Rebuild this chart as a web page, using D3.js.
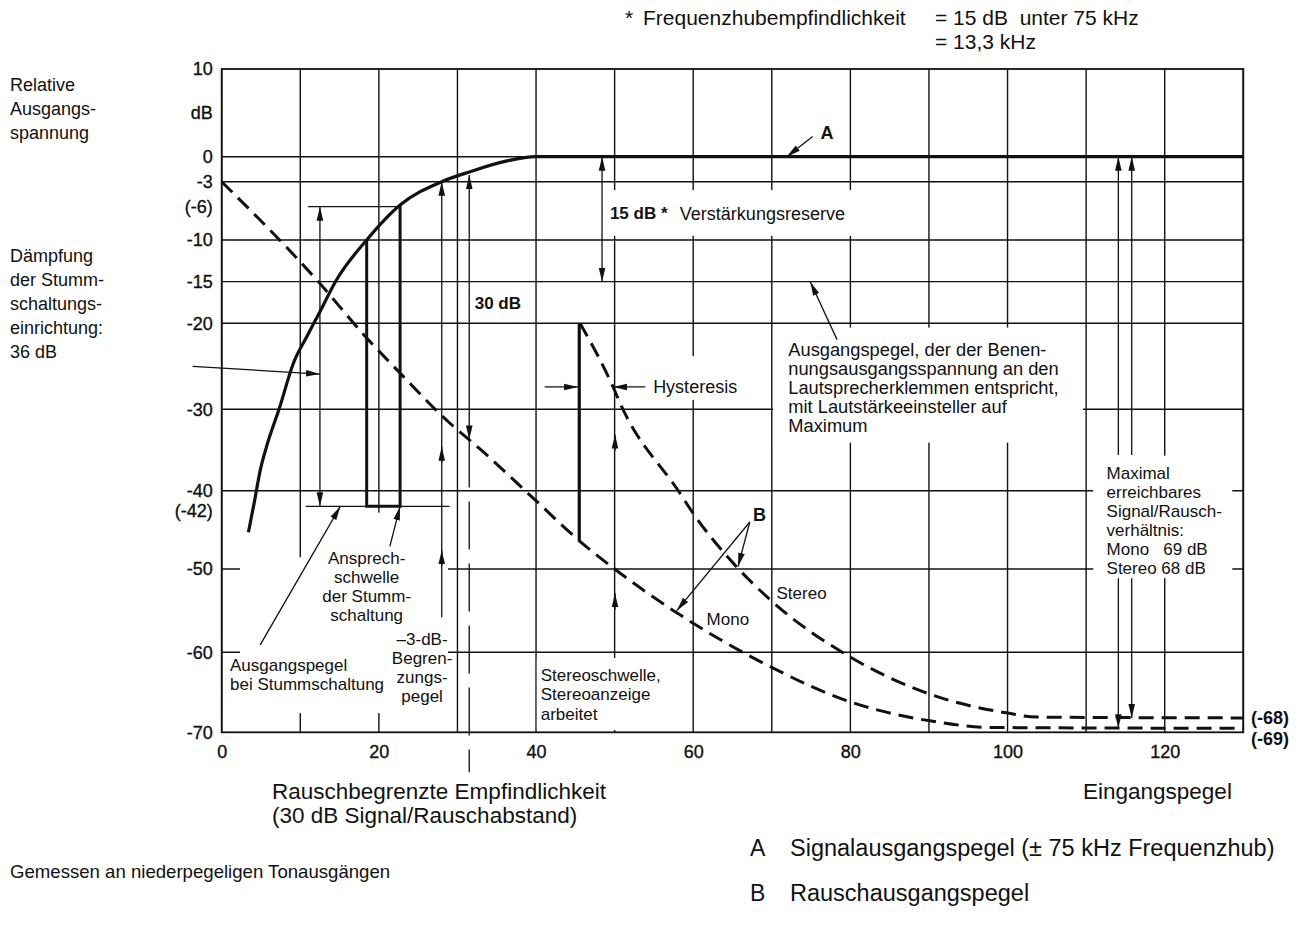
<!DOCTYPE html>
<html><head><meta charset="utf-8">
<script src="https://cdn.jsdelivr.net/npm/d3@7"></script>
<style>
body{margin:0;background:#fff;}
svg text{font-family:"Liberation Sans",Arial,Helvetica,sans-serif;fill:#111;white-space:pre;}
</style></head><body>
<svg id="c" width="1306" height="933"></svg>
<script>
// ---------------- data ----------------
const xTicks = [0,20,40,60,80,100,120];
const xGrid = [0,10,20,30,40,50,60,70,80,90,100,110,120,130];
const yTicks = [10,0,-3,-6,-10,-15,-20,-30,-40,-42.6,-50,-60,-70];
const yTickLabels = ["10","0","-3","(-6)","-10","-15","-20","-30","-40","(-42)","-50","-60","-70"];
const yGrid = [0,-3,-10,-15,-20,-30,-40,-50,-60];
// A: Signalausgangspegel (input level, dB)
const curveA = [[3.4,-45.3],[4.2,-41.2],[4.9,-37.5],[5.7,-34.6],[7.4,-29.7],[9.1,-24.7],[10.8,-21.6],[12.5,-18.6],[14.6,-14.8],[18.45,-10],[22.7,-5.8],[28,-3],[31.6,-1.8],[36.3,-0.5],[40,0],[130,0]];
// B: Rauschausgangspegel Mono
const curveMono = [[0,-3],[12.1,-14.8],[18.45,-21.7],[22.5,-25.6],[28.8,-31.5],[32.9,-34.9],[39.7,-41.0],[45.4,-46.3],[50,-50],[57.5,-55],[69.8,-61.8],[80,-66.2],[90.3,-68.6],[98,-69.4],[130,-69.5]];
// B: Rauschausgangspegel Stereo
const curveStereo = [[45.6,-20],[49.8,-27.4],[50.7,-29.3],[58.3,-40.3],[60,-42.9],[65.5,-49.7],[69.8,-53.7],[80,-60.6],[90.3,-65.3],[100,-67.6],[103.7,-68.1],[130,-68.2]];
// Stummschaltung (mute) step and stereo switch step
const muteStep = [[18.45,-10],[18.45,-42],[22.7,-42],[22.7,-5.8]];
const stereoStep = [[45.5,-20],[45.5,-46.3]];
// short reference levels [value, xFrom, xTo]
const refLines = [[-6,11,22.7],[-42,10.7,29]];
// arrows [x1,y1,x2,y2,headStart,headEnd]
const arrows = [
  [-3.7,-25,12.5,-25.9,0,1],
  [12.5,-6,12.5,-42,1,1],
  [28,-55.8,28,-3,0,1],
  [28,-36.6,28,-34.6,0,1],
  [28,-49.6,28,-47.6,0,1],
  [31.5,-2.2,31.5,-33.7,1,1],
  [48.4,0,48.4,-15,1,1],
  [41.1,-27.4,45.35,-27.4,0,1],
  [53.9,-27.4,49.8,-27.4,0,1],
  [50.05,-35.1,50.05,-33.1,0,1],
  [50.05,-54.9,50.05,-52.9,0,1],
  [114.1,-35.6,114.1,0,0,1],
  [115.8,-35.6,115.8,0,0,1],
  [114.1,-51.1,114.1,-69.5,0,1],
  [115.8,-51.1,115.8,-68.2,0,1],
  [78.3,-21.9,74.9,-15,0,1],
  [75.2,2.3,71.9,0,0,1],
  [67.2,-44,57.9,-55,0,1],
  [67.2,-44,65.7,-49.7,0,1],
  [4.9,-59.1,15.1,-42,0,1],
  [21.4,-47.1,22.7,-42,0,1]
];
const dashDot = [[31.5,-33.7],[31.5,-75]];
// blank areas behind annotations [x0,x1,yTop,yBottom]
const masks = [
  [48.8,81.2,-4.0,-9.5],
  [54.3,66.6,-23.8,-28.9],
  [70.15,109.6,-20.5,-34.1],
  [110.9,128.6,-35.7,-51.1],
  [40.1,59.6,-60.7,-69.7],
  [2.33,28.8,-48.5,-67.6],
  [15.05,28.8,-42.8,-48.5]
];
// annotation texts [x, y, lines, anchor, size, weight]
const notes = [
  [1.06,-61.6,["Ausgangspegel","bei Stummschaltung"],"start",17,"normal"],
  [18.45,-48.6,["Ansprech-","schwelle","der Stumm-","schaltung"],"middle",17,"normal"],
  [25.5,-58.4,["\u20133-dB-","Begren-","zungs-","pegel"],"middle",17,"normal"],
  [40.6,-62.9,["Stereoschwelle,","Stereoanzeige","arbeitet"],"start",17,"normal"],
  [61.7,-56,["Mono"],"start",17,"normal"],
  [70.6,-52.9,["Stereo"],"start",17,"normal"],
  [54.9,-27.4,["Hysteresis"],"start",18,"normal"],
  [72.1,-23.0,["Ausgangspegel, der der Benen-","nungsausgangsspannung an den","Lautsprecherklemmen entspricht,","mit Lautstärkeeinsteller auf","Maximum"],"start",18.3,"normal"],
  [112.6,-37.8,["Maximal","erreichbares","Signal/Rausch-","verhältnis:","Mono   69 dB","Stereo 68 dB"],"start",17,"normal"],
  [58.3,-6.8,["Verstärkungsreserve"],"start",18,"normal"],
  [49.4,-6.8,["15 dB *"],"start",17,"bold"],
  [32.2,-17.6,["30 dB"],"start",17,"bold"],
  [76.2,2.7,["A"],"start",18,"bold"],
  [67.6,-43.1,["B"],"start",18,"bold"]
];

// ---------------- drawing ----------------
const svg = d3.select("#c");
const x = d3.scaleLinear().domain([0,130]).range([221.7,1243.3]);
const y = d3.scaleLinear().domain([10,0,-10,-20,-30,-40,-50,-60,-70])
  .range([69,156.7,240,323.3,409.3,490.7,569,652.3,732.3]);
const INK = "#111";

const defs = svg.append("defs");
defs.append("marker").attr("id","ah").attr("viewBox","0 -4 14 8")
  .attr("refX",14).attr("refY",0).attr("markerWidth",14).attr("markerHeight",8)
  .attr("markerUnits","userSpaceOnUse").attr("orient","auto-start-reverse")
  .append("path").attr("d","M0,-3.3L14,0L0,3.3Z").attr("fill",INK);

const g = svg.append("g");
// grid
g.selectAll(null).data(xGrid).join("line")
  .attr("x1",d=>x(d)).attr("x2",d=>x(d)).attr("y1",y(10)).attr("y2",y(-70))
  .attr("stroke",INK).attr("stroke-width",1.4);
g.selectAll(null).data(yGrid).join("line")
  .attr("x1",x(0)).attr("x2",x(130)).attr("y1",d=>y(d)).attr("y2",d=>y(d))
  .attr("stroke",INK).attr("stroke-width",1.4);
g.append("rect").attr("x",x(0)).attr("y",y(10)).attr("width",x(130)-x(0)).attr("height",y(-70)-y(10))
  .attr("fill","none").attr("stroke",INK).attr("stroke-width",1.8);
// masks
g.selectAll(null).data(masks).join("rect")
  .attr("x",d=>x(d[0])).attr("width",d=>x(d[1])-x(d[0]))
  .attr("y",d=>y(d[2])).attr("height",d=>y(d[3])-y(d[2])).attr("fill","#fff");
// short reference lines
g.selectAll(null).data(refLines).join("line")
  .attr("x1",d=>x(d[1])).attr("x2",d=>x(d[2])).attr("y1",d=>y(d[0])).attr("y2",d=>y(d[0]))
  .attr("stroke",INK).attr("stroke-width",1.3);

// curves
const smooth = d3.line().x(d=>x(d[0])).y(d=>y(d[1])).curve(d3.curveMonotoneX);
const straight = d3.line().x(d=>x(d[0])).y(d=>y(d[1]));
g.append("path").attr("d",smooth(curveMono)).attr("fill","none").attr("stroke",INK)
  .attr("stroke-width",3).attr("stroke-dasharray","15,8");
g.append("path").attr("d",smooth(curveStereo)).attr("fill","none").attr("stroke",INK)
  .attr("stroke-width",3).attr("stroke-dasharray","15,8");
g.append("path").attr("d",smooth(curveA)).attr("fill","none").attr("stroke",INK).attr("stroke-width",3.2);
g.append("path").attr("d",straight(muteStep)).attr("fill","none").attr("stroke",INK).attr("stroke-width",3);
g.append("path").attr("d",straight(stereoStep)).attr("fill","none").attr("stroke",INK).attr("stroke-width",3.2);
g.append("path").attr("d",straight(dashDot)).attr("fill","none").attr("stroke",INK)
  .attr("stroke-width",1.3).attr("stroke-dasharray","48,14");

// arrows
g.selectAll(null).data(arrows).join("line")
  .attr("x1",d=>x(d[0])).attr("y1",d=>y(d[1])).attr("x2",d=>x(d[2])).attr("y2",d=>y(d[3]))
  .attr("stroke",INK).attr("stroke-width",1.3)
  .attr("marker-start",d=>d[4]?"url(#ah)":null)
  .attr("marker-end",d=>d[5]?"url(#ah)":null);

// axes
const ax = svg.append("g").attr("transform",`translate(${x(0)},0)`)
  .call(d3.axisLeft(y).tickValues(yTicks).tickFormat((d,i)=>yTickLabels[i]).tickSize(0).tickPadding(9));
ax.select(".domain").remove();
ax.selectAll("text").attr("font-size",18).style("fill",INK).attr("stroke",INK).attr("stroke-width",0.35);
ax.attr("font-family",null);
const bx = svg.append("g").attr("transform",`translate(0,${y(-70)})`)
  .call(d3.axisBottom(x).tickValues(xTicks).tickFormat(d3.format("d")).tickSize(0).tickPadding(13));
bx.select(".domain").remove();
bx.selectAll("text").attr("font-size",18).style("fill",INK).attr("stroke",INK).attr("stroke-width",0.35);
bx.attr("font-family",null);
svg.append("text").attr("x",x(0)-9).attr("y",y(5)).attr("dy","0.35em").attr("text-anchor","end")
  .attr("font-size",18).attr("stroke",INK).attr("stroke-width",0.35).text("dB");

// annotation texts
notes.forEach(n=>{
  const t = g.append("text").attr("x",x(n[0])).attr("y",y(n[1]))
    .attr("text-anchor",n[3]).attr("font-size",n[4]).attr("font-weight",n[5]);
  n[2].forEach((s,i)=>{
    t.append("tspan").attr("x",x(n[0])).attr("dy",i===0?"0.35em":(n[4]>18?"1.05em":"1.12em")).text(s);
  });
});

// end labels
svg.append("text").attr("x",1251).attr("y",718).attr("dy","0.35em").attr("font-size",18).attr("font-weight","bold").text("(-68)");
svg.append("text").attr("x",1251).attr("y",739).attr("dy","0.35em").attr("font-size",18).attr("font-weight","bold").text("(-69)");

// outer texts
function block(px,py,lines,size,lh,anchor){
  const t = svg.append("text").attr("x",px).attr("y",py).attr("font-size",size).attr("text-anchor",anchor||"start");
  lines.forEach((s,i)=>t.append("tspan").attr("x",px).attr("dy",i===0?"0.35em":lh).text(s));
}
block(625,18,["*"],21);
block(643,18,["Frequenzhubempfindlichkeit"],21);
block(935,18,["= 15 dB  unter 75 kHz"],21);
block(935,42,["= 13,3 kHz"],21);
block(10,85,["Relative","Ausgangs-","spannung"],18,24);
block(10,256,["Dämpfung","der Stumm-","schaltungs-","einrichtung:","36 dB"],18,24);
block(272,791,["Rauschbegrenzte Empfindlichkeit","(30 dB Signal/Rauschabstand)"],22.5,24);
block(1083,791,["Eingangspegel"],22.5);
block(10,871,["Gemessen an niederpegeligen Tonausgängen"],18.6);
block(750,848,["A"],23);
block(790,848,["Signalausgangspegel (\u00b1 75 kHz Frequenzhub)"],23.5);
block(750,893,["B"],23);
block(790,893,["Rauschausgangspegel"],23.5);
</script>
</body></html>
